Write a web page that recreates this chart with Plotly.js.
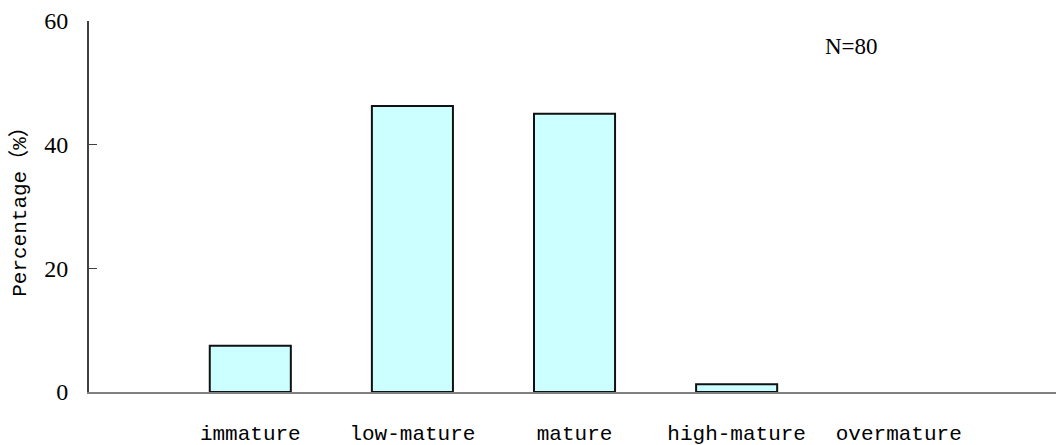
<!DOCTYPE html>
<html>
<head>
<meta charset="utf-8">
<script src="https://cdn.plot.ly/plotly-3.0.1.min.js"></script>
<style>html,body{margin:0;padding:0;background:#fff;}#chart{width:1056px;height:445px;}</style>
</head>
<body>
<div id="chart"></div>
<script>
var categories = ["immature", "low-mature", "mature", "high-mature", "overmature"];
var percentages = [7.5, 46.25, 45, 1.25, 0];
var yTickValues = [0, 20, 40, 60];
var yTitle = "Percentage（%）";
var sampleNote = "N=80";

var monoFont = "'Liberation Mono', 'Courier New', 'Noto Sans CJK SC', monospace";
var serifFont = "'Liberation Serif', 'Times New Roman', serif";

var trace = {
  type: "bar",
  x: [0, 1, 2, 3, 4],
  y: percentages,
  width: 0.5,
  marker: {color: "#CCFFFF", line: {color: "#111111", width: percentages.map(function (v) { return v > 0 ? 2 : 0; })}},
  hoverinfo: "skip"
};

var layout = {
  width: 1056, height: 445,
  margin: {l: 89, r: 0, t: 21, b: 53},
  paper_bgcolor: "#ffffff", plot_bgcolor: "#ffffff",
  showlegend: false,
  xaxis: {
    range: [-0.995, 4.97],
    tickmode: "array", tickvals: [0, 1, 2, 3, 4], ticktext: categories,
    showgrid: false, zeroline: false,
    showline: true, linecolor: "#808080", linewidth: 2,
    ticks: "", ticklabelstandoff: 21,
    tickfont: {family: monoFont, size: 21, color: "#000"}
  },
  yaxis: {
    range: [0, 60],
    tickmode: "array", tickvals: yTickValues,
    showgrid: false, zeroline: false,
    showline: true, linecolor: "#404040", linewidth: 2,
    ticks: "inside", ticklen: 8, tickwidth: 1.5, tickcolor: "#404040",
    ticklabelstandoff: 14,
    tickfont: {family: serifFont, size: 24, color: "#000"},
    title: {text: yTitle, standoff: 12, font: {family: monoFont, size: 21, color: "#000"}}
  },
  annotations: [{
    xref: "paper", yref: "paper", x: 0.789, y: 0.93,
    xanchor: "center", yanchor: "middle",
    text: sampleNote, showarrow: false,
    font: {family: serifFont, size: 23, color: "#000"}
  }]
};

Plotly.newPlot("chart", [trace], layout, {displayModeBar: false, staticPlot: true});
</script>
</body>
</html>
